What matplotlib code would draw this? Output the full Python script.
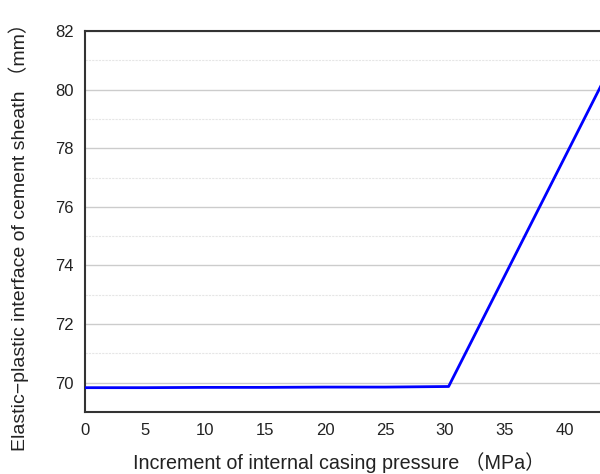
import matplotlib
matplotlib.use("Agg")
import matplotlib.pyplot as plt
from matplotlib.ticker import MultipleLocator

x_pressure = [0, 5, 10, 15, 20, 25, 30.3, 45]
y_interface = [69.83, 69.83, 69.84, 69.84, 69.85, 69.85, 69.87, 81.75]
x_ticks = [0, 5, 10, 15, 20, 25, 30, 35, 40]
y_ticks = [70, 72, 74, 76, 78, 80, 82]

fam = ['Liberation Sans', 'Noto Sans CJK SC', 'DejaVu Sans']
plt.rcParams['font.family'] = fam

W, H = 600, 474
fig = plt.figure(figsize=(6, 4.74), dpi=100)
ax = fig.add_axes([85/W, 62/H, 0.9, 381/H])

ax.plot(x_pressure, y_interface, color='#0000ff', lw=2, zorder=3)
ax.set_xlim(0, 45)
ax.set_ylim(69, 82)
ax.set_xticks(x_ticks)
ax.set_yticks(y_ticks)
ax.yaxis.set_minor_locator(MultipleLocator(1))
ax.grid(axis='y', which='major', color='#cccccc', lw=1)
ax.grid(axis='y', which='minor', color='#e6e6e6', lw=0.8, ls=(0, (2, 1)))
ax.set_axisbelow(True)
ax.tick_params(which='both', length=0, labelsize=12, colors='#222222', pad=8)
for s in ax.spines.values():
    s.set_color('#333333')
    s.set_linewidth(1.5)

fig.text(339/W, 1 - 463/H, 'Increment of internal casing pressure （MPa）',
         fontsize=14.2, color='#222222', ha='center', va='center')
fig.text(19/W, 1 - 232/H, 'Elastic−plastic interface of cement sheath （mm）',
         fontsize=14, color='#222222', ha='center', va='center', rotation=90)

fig.savefig('out.png', dpi=100)
